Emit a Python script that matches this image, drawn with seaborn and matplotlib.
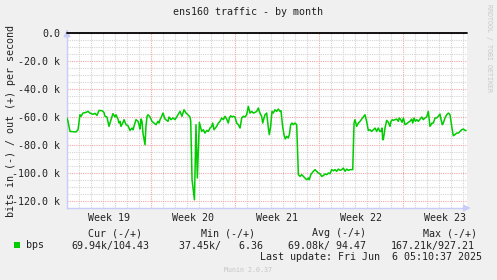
import numpy as np
import pandas as pd
import matplotlib
matplotlib.use("Agg")
import matplotlib.pyplot as plt
import seaborn as sns

# ---- data (days since start of week 19, inbound traffic in k bps shown negative) ----
days = [0.0, 0.08, 0.25, 0.75, 0.92, 1.08, 1.17, 1.33, 1.58, 1.75, 1.92, 2.17, 2.33, 2.5, 2.67, 2.92,
        3.08, 3.17, 3.33, 3.5, 3.58, 3.83, 4.0, 4.08, 4.25, 4.33, 4.42, 4.5, 4.67, 4.75, 4.92, 5.08,
        5.17, 5.25, 5.42, 5.5, 5.67, 5.75, 5.92, 6.0, 6.08, 6.17, 6.25, 6.33, 6.5, 6.58, 6.67, 6.75,
        6.92, 7.08, 7.25, 7.42, 7.58, 7.67, 7.75, 7.83, 8.0, 8.17, 8.42, 8.5, 8.67, 8.83, 9.0, 9.17,
        9.33, 9.42, 9.58, 9.75, 9.92, 10.08, 10.25, 10.31, 10.42, 10.62, 10.75, 10.86, 11.03, 11.22,
        11.36, 11.5, 11.64, 11.78, 11.92, 12.06, 12.14, 12.25, 12.36, 12.47, 12.61, 12.75, 12.89,
        13.03, 13.17, 13.31, 13.44, 13.53, 13.64, 13.75, 13.86, 14.0, 14.14, 14.28, 14.42, 14.56,
        14.69, 14.83, 14.97, 15.11, 15.25, 15.39, 15.53, 15.67, 15.81, 15.94, 16.08, 16.22, 16.31,
        16.42, 16.5, 16.64, 16.78, 16.86, 16.97, 17.08, 17.19, 17.33, 17.47, 17.61, 17.75, 17.83,
        17.97, 18.08, 18.19, 18.31, 18.44, 18.53, 18.64, 18.75, 18.86, 19.0, 19.14, 19.28, 19.42,
        19.56, 19.69, 19.83, 19.97, 20.11, 20.19, 20.31, 20.42, 20.53, 20.67, 20.81, 20.94, 21.08,
        21.22, 21.36, 21.5, 21.64, 21.78, 21.92, 22.06, 22.19, 22.33, 22.47, 22.61, 22.75, 22.89,
        23.03, 23.17, 23.31, 23.44, 23.58, 23.81, 23.92, 24.0, 24.14, 24.28, 24.42, 24.56, 24.69,
        24.83, 24.97, 25.11, 25.25, 25.39, 25.53, 25.67, 25.81, 25.94, 26.08, 26.17, 26.25, 26.31,
        26.36, 26.5, 26.64, 26.78, 26.92, 27.0, 27.11, 27.19, 27.33, 27.47, 27.61, 27.69, 27.81,
        27.92, 28.03, 28.17, 28.31, 28.44, 28.58, 28.72, 28.81, 28.92, 29.03, 29.14, 29.28, 29.42,
        29.56, 29.69, 29.83, 29.97, 30.11, 30.19, 30.25, 30.33, 30.42, 30.53, 30.67, 30.81, 30.94,
        31.08, 31.17, 31.28, 31.36, 31.5, 31.64, 31.78, 31.92, 32.06, 32.19, 32.33, 32.47, 32.61,
        32.75, 32.89, 33.03, 33.17, 33.25]
bps_in_k = [-60.7, -63.1, -70.3, -70.7, -69.1, -58.4, -59.5, -57.2, -56.7, -56.0, -57.2, -58.1, -57.4,
            -58.8, -55.3, -55.5, -56.7, -59.5, -60.0, -66.7, -64.3, -57.6, -60.0, -58.4, -61.5, -64.3,
            -63.1, -66.7, -63.8, -61.9, -65.5, -66.2, -67.9, -69.6, -67.9, -69.1, -64.3, -61.9, -63.1,
            -65.5, -68.6, -61.5, -63.1, -71.5, -79.8, -66.7, -59.5, -58.4, -60.0, -63.1, -64.3, -65.5,
            -63.1, -64.3, -61.9, -60.7, -57.2, -61.5, -63.1, -60.0, -61.9, -60.7, -61.9, -59.5, -57.2,
            -56.0, -59.5, -54.8, -57.2, -58.4, -60.0, -63.1, -104.8, -119.1, -65.5, -103.6, -63.8, -70.3,
            -69.1, -71.5, -69.6, -70.3, -67.9, -66.7, -64.3, -69.1, -67.9, -66.7, -64.3, -63.1, -60.7,
            -61.9, -59.5, -61.5, -64.3, -60.7, -59.1, -60.0, -59.5, -60.0, -64.3, -65.5, -67.9, -60.7,
            -59.5, -60.0, -58.4, -52.4, -57.2, -56.0, -57.2, -56.7, -56.0, -53.6, -57.2, -59.5, -64.3,
            -60.7, -58.4, -57.2, -67.9, -72.6, -66.7, -56.0, -57.2, -54.8, -56.0, -54.3, -56.0, -55.5,
            -66.7, -72.6, -75.7, -73.8, -75.0, -72.6, -65.5, -64.3, -65.5, -64.3, -65.5, -101.2, -102.4,
            -101.2, -102.4, -103.6, -104.8, -103.6, -104.8, -101.2, -100.0, -98.8, -97.6, -98.8, -100.0,
            -100.5, -102.4, -101.9, -100.7, -101.2, -100.0, -100.5, -97.6, -98.4, -97.6, -98.8, -97.2,
            -98.1, -97.6, -96.5, -98.8, -97.2, -98.1, -97.6, -97.6, -64.3, -61.9, -66.7, -64.3, -63.1,
            -61.5, -60.0, -58.4, -63.1, -69.6, -69.1, -70.3, -69.1, -67.9, -70.3, -67.9, -70.3, -70.3,
            -67.9, -76.2, -76.2, -67.9, -62.4, -63.8, -66.7, -63.1, -61.9, -62.4, -61.9, -61.5, -63.1,
            -60.7, -61.9, -63.8, -60.7, -65.5, -64.8, -63.8, -63.1, -61.5, -64.3, -60.7, -63.1, -61.9,
            -63.1, -61.5, -60.0, -61.9, -60.7, -60.0, -56.0, -61.9, -66.7, -65.5, -64.3, -64.3, -60.7,
            -60.7, -59.5, -57.9, -61.9, -65.5, -64.3, -60.7, -58.4, -57.2, -58.4, -66.7, -73.4, -72.6,
            -71.5, -71.5, -70.3, -69.1, -68.6, -69.6, -69.6]

week_labels = ["Week 19", "Week 20", "Week 21", "Week 22", "Week 23"]
y_ticks = [0, -20, -40, -60, -80, -100, -120]
y_tick_labels = ["0.0", "-20.0 k", "-40.0 k", "-60.0 k", "-80.0 k", "-100.0 k", "-120.0 k"]

title = "ens160 traffic - by month"
ylabel = "bits in (-) / out (+) per second"
legend_name = "bps"
legend_headers = ["Cur (-/+)", "Min (-/+)", "Avg (-/+)", "Max (-/+)"]
legend_values = ["69.94k/104.43", "37.45k/   6.36", "69.08k/ 94.47", "167.21k/927.21"]
last_update = "Last update: Fri Jun  6 05:10:37 2025"

# ---- styling ----
sns.set_style("white")
plt.rcParams["font.family"] = ["DejaVu Sans Mono"]
TXT = "#222222"
BG = "#F0F0F0"
GREEN = "#00CC00"
AXIS = "#C8CCF8"
W, H = 497, 280

fig = plt.figure(figsize=(W / 100, H / 100), dpi=100, facecolor=BG)
ax = fig.add_axes([67 / W, 1 - 208 / H, 400 / W, 175 / H])
ax.set_facecolor("white")

def fx(px):
    return px / W

def fy(py):
    return 1 - py / H

df = pd.DataFrame({"day": days, "bps": bps_in_k})

ax.set_xlim(0, 33.333)
ax.set_ylim(-125, 0)

# grids
n_weeks = len(week_labels)
ax.set_xticks([7 * i for i in range(n_weeks)])
ax.set_xticks(np.arange(0, 34, 1), minor=True)
ax.set_yticks(y_ticks)
ax.set_yticklabels(y_tick_labels)
ax.set_yticks(np.arange(-125, 1, 5), minor=True)
ax.set_xticklabels([])
ax.grid(which="minor", color="#D4D4D4", linestyle=(0, (1, 1)), linewidth=0.8)
ax.grid(which="major", color="#F0A8A8", linestyle=(0, (1, 1)), linewidth=0.8)
ax.set_axisbelow(True)
ax.tick_params(axis="both", which="both", length=0)
ax.tick_params(axis="y", which="major", labelsize=7.2, labelcolor=TXT, pad=5)

sns.lineplot(data=df, x="day", y="bps", ax=ax, color=GREEN, linewidth=1.1, zorder=3)
ax.axhline(0, color="black", linewidth=1.3, zorder=4, clip_on=False)
ax.set_xlabel("")
ax.set_ylabel("")

for sp in ["top", "right"]:
    ax.spines[sp].set_visible(False)
for sp in ["left", "bottom"]:
    ax.spines[sp].set_color(AXIS)
    ax.spines[sp].set_linewidth(1.0)

# axis arrows
ax.annotate("", xy=(1.016, 0), xytext=(0.99, 0), xycoords="axes fraction",
            arrowprops=dict(arrowstyle="-|>,head_length=0.4,head_width=0.2", color=AXIS, lw=1.0),
            annotation_clip=False)
ax.annotate("", xy=(0, 1.035), xytext=(0, 0.99), xycoords="axes fraction",
            arrowprops=dict(arrowstyle="-|>,head_length=0.4,head_width=0.2", color=AXIS, lw=1.0),
            annotation_clip=False)

# week labels centred mid-week
for i, lab in enumerate(week_labels):
    ax.text(7 * i + 3.5, -0.055, lab, transform=ax.get_xaxis_transform(),
            ha="center", va="center", fontsize=7.2, color=TXT)

# titles
fig.text(fx(248), fy(12), title, ha="center", va="center", fontsize=7.2, color=TXT)
fig.text(fx(11), fy(121), ylabel, ha="center", va="center", rotation=90, fontsize=7.2, color=TXT)
fig.text(fx(489), fy(48), "RRDTOOL / TOBI OETIKER", ha="center", va="center", rotation=270,
         fontsize=4.8, color="#C8C8C8")

# legend
fig.patches.append(plt.Rectangle((fx(14), fy(248)), 6 / W, 6 / H, transform=fig.transFigure,
                                 facecolor=GREEN, edgecolor="none"))
fig.text(fx(26), fy(245.5), legend_name, ha="left", va="center", fontsize=7.2, color=TXT)
header_x = [88, 200.7, 311.7, 422.7]
value_x = [71.7, 179.3, 288, 390.7]
for hx, h in zip(header_x, legend_headers):
    fig.text(fx(hx), fy(233.5), h, ha="left", va="center", fontsize=7.2, color=TXT)
for vx, v in zip(value_x, legend_values):
    fig.text(fx(vx), fy(245.5), v, ha="left", va="center", fontsize=7.2, color=TXT)
fig.text(fx(482.5), fy(257), last_update, ha="right", va="center", fontsize=7.2, color=TXT)
fig.text(fx(248), fy(270), "Munin 2.0.37", ha="center", va="center", fontsize=4.8, color="#C4C4C4")

fig.savefig("out.png", dpi=100, facecolor=BG)
